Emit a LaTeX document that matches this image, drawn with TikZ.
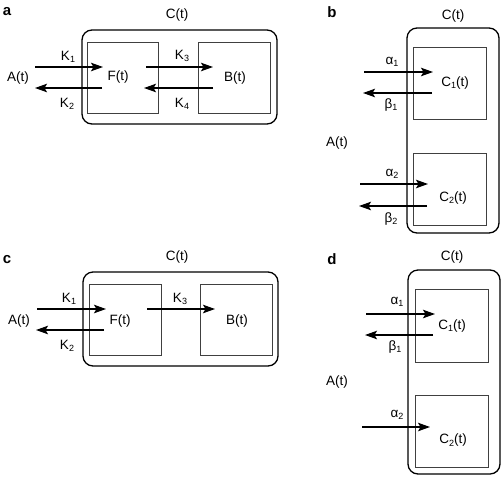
\documentclass[tikz,border=0pt]{standalone}
\usepackage{fontspec}
\setmainfont{Liberation Sans}
\usetikzlibrary{arrows.meta}
\newcommand\mysub[1]{\raisebox{-0.35ex}{\fontsize{9}{10}\selectfont #1}}
\tikzset{
  lbl/.style={font=\fontsize{13.5}{15}\selectfont, inner sep=0pt},
  panel/.style={font=\fontsize{15}{17}\selectfont\bfseries, inner sep=0pt},
  outerbox/.style={draw, line width=1.3pt, rounded corners=10pt, inner sep=0pt},
  inbox/.style={draw=black!75, line width=1pt, inner sep=0pt},
  flow/.style={line width=1.3pt, -{Stealth[length=12pt,width=8.5pt,inset=2.5pt]}},
}
\newcommand\boxat[5]{% name, x1, y1, x2, y2
  \node[inbox, minimum width={(#4-#2)*1pt}, minimum height={(#5-#3)*1pt}] (#1) at ({(#2+#4)/2},{(#3+#5)/2}) {};}
\newcommand\oboxat[5]{%
  \node[outerbox, minimum width={(#4-#2)*1pt}, minimum height={(#5-#3)*1pt}] (#1) at ({(#2+#4)/2},{(#3+#5)/2}) {};}
\begin{document}
\begin{tikzpicture}[x=1pt,y=-1pt]
\useasboundingbox (0,0) rectangle (502,477);
% ---------- panel a ----------
\node[panel] (pa) at (7,12) {a};
\node[lbl] (Cta) at (177,15) {C(t)};
\oboxat{Oa}{82}{30}{277}{124}
\boxat{Fa}{87}{42}{158}{113}
\boxat{Ba}{198}{42}{270}{113}
\node[lbl] (Aa) at (18,78) {A(t)};
\node[lbl] (Fta) at (118,77) {F(t)};
\node[lbl] (Bta) at (235,78) {B(t)};
\coordinate (a1s) at (35,67); \coordinate (a1e) at (103,67);
\coordinate (a2s) at (102,88); \coordinate (a2e) at (35,88);
\coordinate (a3s) at (146,67); \coordinate (a3e) at (213,67);
\coordinate (a4s) at (213,88); \coordinate (a4e) at (144,88);
\draw[flow] (a1s) -- (a1e);
\draw[flow] (a2s) -- (a2e);
\draw[flow] (a3s) -- (a3e);
\draw[flow] (a4s) -- (a4e);
\node[lbl] (ka1) at (68,57) {K\mysub{1}};
\node[lbl] (ka2) at (67,104) {K\mysub{2}};
\node[lbl] (ka3) at (182,56) {K\mysub{3}};
\node[lbl] (ka4) at (182,104) {K\mysub{4}};
% ---------- panel b ----------
\node[panel] (pb) at (332,12) {b};
\node[lbl] (Ctb) at (453,16) {C(t)};
\oboxat{Ob}{407}{28}{499}{233}
\boxat{C1b}{413}{47}{486}{119}
\boxat{C2b}{413}{153}{486}{225}
\node[lbl] (Ab) at (337,143) {A(t)};
\node[lbl] (C1tb) at (455,83) {C\mysub{1}(t)};
\node[lbl] (C2tb) at (453,198) {C\mysub{2}(t)};
\coordinate (b1s) at (364,72); \coordinate (b1e) at (433,72);
\coordinate (b2s) at (432,93); \coordinate (b2e) at (363,93);
\coordinate (b3s) at (360,184); \coordinate (b3e) at (428,184);
\coordinate (b4s) at (427,206); \coordinate (b4e) at (359,206);
\draw[flow] (b1s) -- (b1e);
\draw[flow] (b2s) -- (b2e);
\draw[flow] (b3s) -- (b3e);
\draw[flow] (b4s) -- (b4e);
\node[lbl] (al1b) at (392,62) {α\mysub{1}};
\node[lbl] (be1b) at (391,105) {β\mysub{1}};
\node[lbl] (al2b) at (392,174) {α\mysub{2}};
\node[lbl] (be2b) at (391,219) {β\mysub{2}};
% ---------- panel c ----------
\node[panel] (pc) at (7,260) {c};
\node[lbl] (Ctc) at (177,257) {C(t)};
\oboxat{Oc}{83}{272}{278}{366}
\boxat{Fc}{89}{284}{161}{355}
\boxat{Bc}{200}{284}{272}{355}
\node[lbl] (Ac) at (19,321) {A(t)};
\node[lbl] (Ftc) at (120,321) {F(t)};
\node[lbl] (Btc) at (237,321) {B(t)};
\coordinate (c1s) at (37,309); \coordinate (c1e) at (106,309);
\coordinate (c2s) at (104,330); \coordinate (c2e) at (36,330);
\coordinate (c3s) at (147,309); \coordinate (c3e) at (215,309);
\draw[flow] (c1s) -- (c1e);
\draw[flow] (c2s) -- (c2e);
\draw[flow] (c3s) -- (c3e);
\node[lbl] (kc1) at (69,299) {K\mysub{1}};
\node[lbl] (kc2) at (67,346) {K\mysub{2}};
\node[lbl] (kc3) at (180,299) {K\mysub{3}};
% ---------- panel d ----------
\node[panel] (pd) at (332,259) {d};
\node[lbl] (Ctd) at (452,257) {C(t)};
\oboxat{Od}{408}{270}{500}{474}
\boxat{C1d}{415}{289}{488}{362}
\boxat{C2d}{415}{395}{488}{467}
\node[lbl] (Ad) at (337,382) {A(t)};
\node[lbl] (C1td) at (452,326) {C\mysub{1}(t)};
\node[lbl] (C2td) at (453,440) {C\mysub{2}(t)};
\coordinate (d1s) at (366,314); \coordinate (d1e) at (435,314);
\coordinate (d2s) at (433,335); \coordinate (d2e) at (365,335);
\coordinate (d3s) at (362,427); \coordinate (d3e) at (430,427);
\draw[flow] (d1s) -- (d1e);
\draw[flow] (d2s) -- (d2e);
\draw[flow] (d3s) -- (d3e);
\node[lbl] (al1d) at (397,302) {α\mysub{1}};
\node[lbl] (be1d) at (395,347) {β\mysub{1}};
\node[lbl] (al2d) at (397,415) {α\mysub{2}};
\end{tikzpicture}
\end{document}
